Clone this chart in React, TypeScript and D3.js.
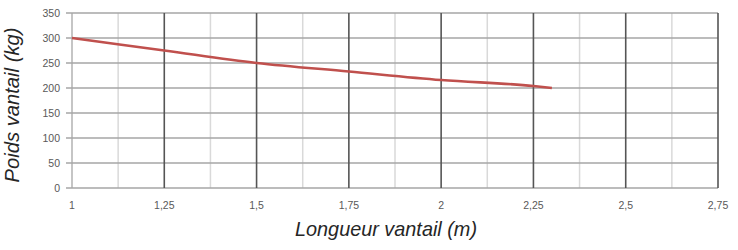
import * as d3 from 'd3';

const lengths = [1, 1.25, 1.5, 1.75, 2, 2.25, 2.3];
const weights = [300, 275, 250, 233, 216, 204, 200];
const xTicks = [1, 1.25, 1.5, 1.75, 2, 2.25, 2.5, 2.75];
const xMinorTicks = [1.125, 1.375, 1.625, 1.875, 2.125, 2.375, 2.625];
const yTicks = [0, 50, 100, 150, 200, 250, 300, 350];

const width = 738;
const height = 250;
const margin = { top: 13, right: 20, bottom: 62, left: 72 };

const App = (): React.ReactElement => {
  const x = d3.scaleLinear().domain([1, 2.75]).range([margin.left, width - margin.right]);
  const y = d3.scaleLinear().domain([0, 350]).range([height - margin.bottom, margin.top]);

  const line = d3
    .line<number>()
    .x((_, i) => x(lengths[i]))
    .y((d) => y(d))
    .curve(d3.curveMonotoneX);

  const fmt = (v: number) => String(v).replace('.', ',');
  const tickFont = "'Liberation Sans', Arial, sans-serif";
  const titleFont = "'Liberation Sans Narrow', 'Liberation Sans', Arial, sans-serif";

  return (
    <svg width={width} height={height} style={{ position: 'absolute', left: 0, top: 0 }}>
      <rect width={width} height={height} fill="#fff" />
      {/* minor vertical grid */}
      {xMinorTicks.map((t) => (
        <line key={'m' + t} x1={x(t)} x2={x(t)} y1={y(350)} y2={y(0)} stroke="#d9d9d9" strokeWidth={1.5} />
      ))}
      {/* horizontal grid */}
      {yTicks.map((t) => (
        <line key={'h' + t} x1={x(1) - 6} x2={x(2.75)} y1={y(t)} y2={y(t)} stroke="#a6a6a6" strokeWidth={1.3} />
      ))}
      {/* major vertical grid */}
      {xTicks.map((t) => (
        <line
          key={'v' + t}
          x1={x(t)}
          x2={x(t)}
          y1={y(350)}
          y2={y(0)}
          stroke={t === 1 ? '#a6a6a6' : '#555'}
          strokeWidth={t === 1 ? 1.3 : 1.6}
        />
      ))}
      <path d={line(weights) ?? ''} fill="none" stroke="#c0504d" strokeWidth={2.6} />
      {yTicks.map((t) => (
        <text key={'yl' + t} x={60} y={y(t)} dy="0.35em" textAnchor="end" fontSize={10.5} fill="#595959" fontFamily={tickFont}>
          {t}
        </text>
      ))}
      {xTicks.map((t) => (
        <text key={'xl' + t} x={x(t)} y={205} dy="0.35em" textAnchor="middle" fontSize={10.5} fill="#595959" fontFamily={tickFont}>
          {fmt(t)}
        </text>
      ))}
      <text
        x={386}
        y={229}
        dy="0.35em"
        textAnchor="middle"
        fontSize={21}
        fontStyle="italic"
        fill="#262626"
        fontFamily={titleFont}
        textLength={182}
        lengthAdjust="spacingAndGlyphs"
      >
        Longueur vantail (m)
      </text>
      <text
        transform="translate(12,105) rotate(-90)"
        dy="0.35em"
        textAnchor="middle"
        fontSize={21}
        fontStyle="italic"
        fill="#262626"
        fontFamily={titleFont}
        textLength={155}
        lengthAdjust="spacingAndGlyphs"
      >
        Poids vantail (kg)
      </text>
    </svg>
  );
};

export default App;
